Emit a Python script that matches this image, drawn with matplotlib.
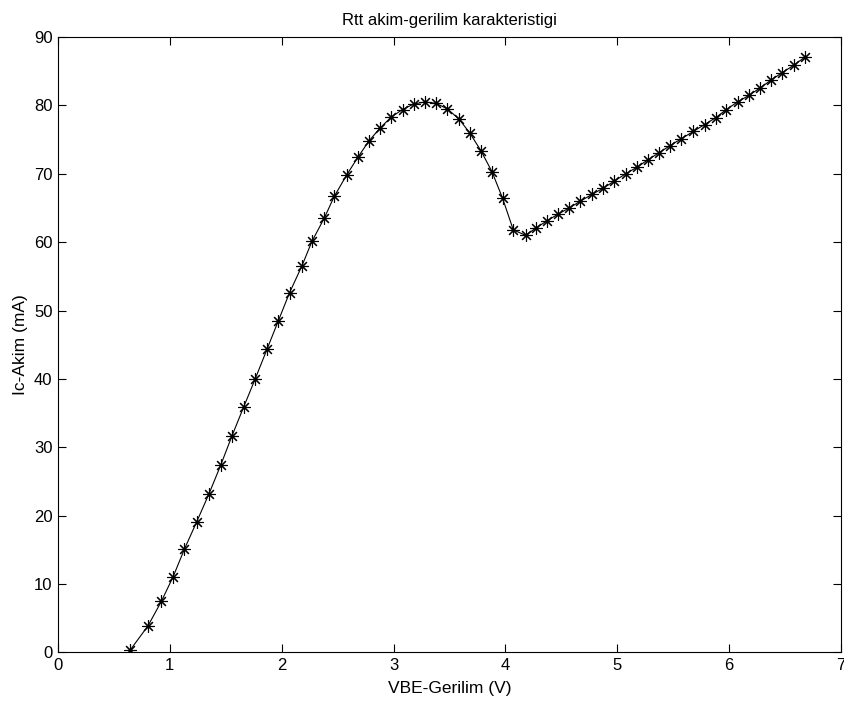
import matplotlib
matplotlib.use("Agg")
import matplotlib.pyplot as plt

plt.rcParams['font.family'] = ['Liberation Sans', 'DejaVu Sans']

# Measured collector current vs. base-emitter voltage
vbe = [0.643, 0.805, 0.925, 1.03, 1.13, 1.24, 1.35, 1.455, 1.555, 1.66,
       1.763, 1.87, 1.97, 2.07, 2.18, 2.27, 2.38, 2.47, 2.58, 2.68,
       2.78, 2.88, 2.98, 3.08, 3.18, 3.28, 3.38, 3.48, 3.585, 3.68,
       3.78, 3.88, 3.975, 4.07, 4.18, 4.275, 4.37, 4.47, 4.57, 4.67,
       4.775, 4.875, 4.97, 5.075, 5.18, 5.27, 5.375, 5.47, 5.57, 5.68,
       5.78, 5.88, 5.975, 6.075, 6.18, 6.28, 6.375, 6.475, 6.58, 6.68]
ic = [0.3, 3.9, 7.5, 11.1, 15.1, 19.1, 23.2, 27.4, 31.65, 35.9,
      40.0, 44.4, 48.5, 52.6, 56.5, 60.1, 63.5, 66.7, 69.8, 72.4,
      74.8, 76.7, 78.3, 79.4, 80.2, 80.5, 80.3, 79.5, 78.0, 76.0,
      73.4, 70.3, 66.4, 61.8, 61.0, 62.1, 63.1, 64.1, 65.0, 66.0,
      67.0, 67.9, 68.9, 70.0, 71.0, 72.0, 73.1, 74.1, 75.1, 76.2,
      77.2, 78.2, 79.4, 80.5, 81.5, 82.6, 83.7, 84.8, 85.9, 87.1]

x_ticks = [0, 1, 2, 3, 4, 5, 6, 7]
y_ticks = [0, 10, 20, 30, 40, 50, 60, 70, 80, 90]

fig = plt.figure(figsize=(8.45, 7.09), dpi=100)
ax = fig.add_axes([0.0686, 0.0797, 0.9267, 0.8681])

ax.plot(vbe, ic, color='black', linewidth=0.8, marker=(8, 2, 0),
        markersize=9, markeredgewidth=0.8, markeredgecolor='black')

ax.set_xlim(0, 7)
ax.set_ylim(0, 90)
ax.set_xticks(x_ticks)
ax.set_yticks(y_ticks)
ax.tick_params(direction='in', top=True, right=True, length=6,
               width=0.8, labelsize=12, pad=4)
for s in ax.spines.values():
    s.set_linewidth(0.8)

ax.set_title('Rtt akim-gerilim karakteristigi', fontsize=12, pad=9)
ax.set_xlabel('VBE-Gerilim (V)', fontsize=12.5, labelpad=6)
ax.set_ylabel('Ic-Akim (mA)', fontsize=12.5, labelpad=4)

fig.savefig('out.png', dpi=100, facecolor='white')
